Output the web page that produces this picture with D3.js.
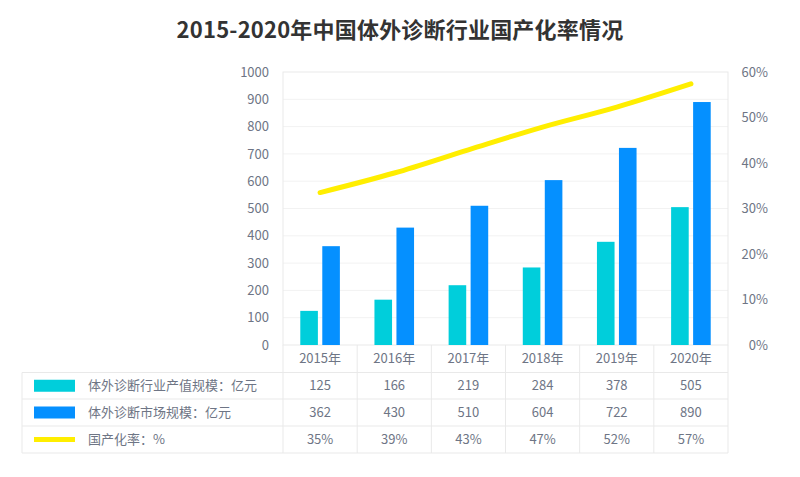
<!DOCTYPE html>
<html>
<head>
<meta charset="utf-8">
<script src="https://cdn.jsdelivr.net/npm/d3@7"></script>
<style>
  body { margin: 0; background: #fff; }
  svg { font-family: "Noto Sans CJK SC", "Noto Sans", sans-serif; }
</style>
</head>
<body>
<div id="chart"></div>
<script>
const years = ["2015年", "2016年", "2017年", "2018年", "2019年", "2020年"];
const outputValues = [125, 166, 219, 284, 378, 505];   // 体外诊断行业产值规模
const marketValues = [362, 430, 510, 604, 722, 890];   // 体外诊断市场规模
const rateValues = [33.5, 37.8, 42.9, 47.9, 52.3, 57.4]; // line
const rateLabels = ["35%", "39%", "43%", "47%", "52%", "57%"];
const leftTicks = [0, 100, 200, 300, 400, 500, 600, 700, 800, 900, 1000];
const rightTicks = [0, 10, 20, 30, 40, 50, 60];

const seriesNames = ["体外诊断行业产值规模：亿元", "体外诊断市场规模：亿元", "国产化率：%"];
const colors = ["#00cedb", "#0590ff", "#ffee00"];

const width = 800, height = 477;
const plot = { left: 283, right: 728, top: 72, bottom: 345 };
const tableLeft = 22;
const rowLines = [372.5, 399, 426, 453];
const textColor = "#6e7585";
const lineColor = "#e9e9e9";

const svg = d3.select("#chart").append("svg")
  .attr("width", width)
  .attr("height", height);

// title
svg.append("text")
  .attr("x", width / 2)
  .attr("y", 38)
  .attr("text-anchor", "middle")
  .attr("font-size", 22)
  .attr("font-weight", "bold")
  .attr("letter-spacing", 0.2)
  .attr("fill", "#333")
  .text("2015-2020年中国体外诊断行业国产化率情况");

const x = d3.scaleBand().domain(years).range([plot.left, plot.right]);
const bw = x.bandwidth();
const x1 = d3.scaleBand().domain([0, 1])
  .range([bw / 2 - 19.8, bw / 2 + 19.8])
  .paddingInner(0.2);

const y = d3.scaleLinear().domain([0, 1000]).range([plot.bottom, plot.top]);
const yR = d3.scaleLinear().domain([0, 60]).range([plot.bottom, plot.top]);

// grid lines
svg.append("g")
  .selectAll("line")
  .data(leftTicks.slice(1, -1))
  .enter().append("line")
  .attr("x1", plot.left).attr("x2", plot.right)
  .attr("y1", d => y(d)).attr("y2", d => y(d))
  .attr("stroke", "#f2f2f2");

// plot frame
svg.append("rect")
  .attr("x", plot.left).attr("y", plot.top)
  .attr("width", plot.right - plot.left)
  .attr("height", plot.bottom - plot.top)
  .attr("fill", "none")
  .attr("stroke", lineColor);

// left axis
const leftAxis = svg.append("g")
  .attr("transform", `translate(${plot.left - 14},0)`)
  .call(d3.axisLeft(y).tickValues(leftTicks).tickFormat(d3.format("d")).tickSize(0).tickPadding(0));
leftAxis.select(".domain").remove();
leftAxis.selectAll("text")
  .attr("font-size", 13)
  .attr("fill", textColor)
  .attr("font-family", "'Noto Sans CJK SC', sans-serif");

// right axis
const rightAxis = svg.append("g")
  .attr("transform", `translate(${plot.right + 40},0)`)
  .call(d3.axisLeft(yR).tickValues(rightTicks).tickFormat(d => d + "%").tickSize(0).tickPadding(0));
rightAxis.select(".domain").remove();
rightAxis.selectAll("text")
  .attr("font-size", 13)
  .attr("fill", textColor)
  .attr("font-family", "'Noto Sans CJK SC', sans-serif");

// bars
const barSeries = [outputValues, marketValues];
barSeries.forEach((vals, s) => {
  svg.append("g")
    .selectAll("rect")
    .data(vals)
    .enter().append("rect")
    .attr("x", (d, i) => x(years[i]) + x1(s))
    .attr("y", d => y(d))
    .attr("width", x1.bandwidth())
    .attr("height", d => plot.bottom - y(d))
    .attr("fill", colors[s]);
});

// rate line
const line = d3.line()
  .x((d, i) => x(years[i]) + bw / 2)
  .y(d => yR(d))
  .curve(d3.curveMonotoneX);

svg.append("path")
  .datum(rateValues)
  .attr("d", line)
  .attr("fill", "none")
  .attr("stroke", colors[2])
  .attr("stroke-width", 5)
  .attr("stroke-linecap", "round");

// table
const table = svg.append("g");

rowLines.forEach(ry => {
  table.append("line")
    .attr("x1", tableLeft).attr("x2", plot.right)
    .attr("y1", ry).attr("y2", ry)
    .attr("stroke", lineColor);
});
table.append("line")
  .attr("x1", tableLeft).attr("x2", tableLeft)
  .attr("y1", rowLines[0]).attr("y2", rowLines[3])
  .attr("stroke", lineColor);

const dividers = years.map(d => x(d)).concat([plot.right]);
table.selectAll(".div")
  .data(dividers)
  .enter().append("line")
  .attr("x1", d => d).attr("x2", d => d)
  .attr("y1", plot.bottom).attr("y2", rowLines[3])
  .attr("stroke", lineColor);

// year labels
table.selectAll(".year")
  .data(years)
  .enter().append("text")
  .attr("x", d => x(d) + bw / 2)
  .attr("y", (plot.bottom + rowLines[0]) / 2)
  .attr("dy", "0.35em")
  .attr("text-anchor", "middle")
  .attr("font-size", 13)
  .attr("fill", textColor)
  .text(d => d);

const rows = [outputValues.map(String), marketValues.map(String), rateLabels];
rows.forEach((vals, r) => {
  const cy = (rowLines[r] + rowLines[r + 1]) / 2;

  if (r < 2) {
    table.append("rect")
      .attr("x", 34).attr("y", cy - 6)
      .attr("width", 41).attr("height", 12)
      .attr("fill", colors[r]);
  } else {
    table.append("rect")
      .attr("x", 34).attr("y", cy - 2.5)
      .attr("width", 41).attr("height", 5)
      .attr("fill", colors[r]);
  }

  table.append("text")
    .attr("x", 88)
    .attr("y", cy)
    .attr("dy", "0.35em")
    .attr("font-size", 13)
    .attr("fill", textColor)
    .text(seriesNames[r]);

  table.selectAll(".v" + r)
    .data(vals)
    .enter().append("text")
    .attr("x", (d, i) => x(years[i]) + bw / 2)
    .attr("y", cy)
    .attr("dy", "0.35em")
    .attr("text-anchor", "middle")
    .attr("font-size", 13)
    .attr("fill", textColor)
    .text(d => d);
});
</script>
</body>
</html>
